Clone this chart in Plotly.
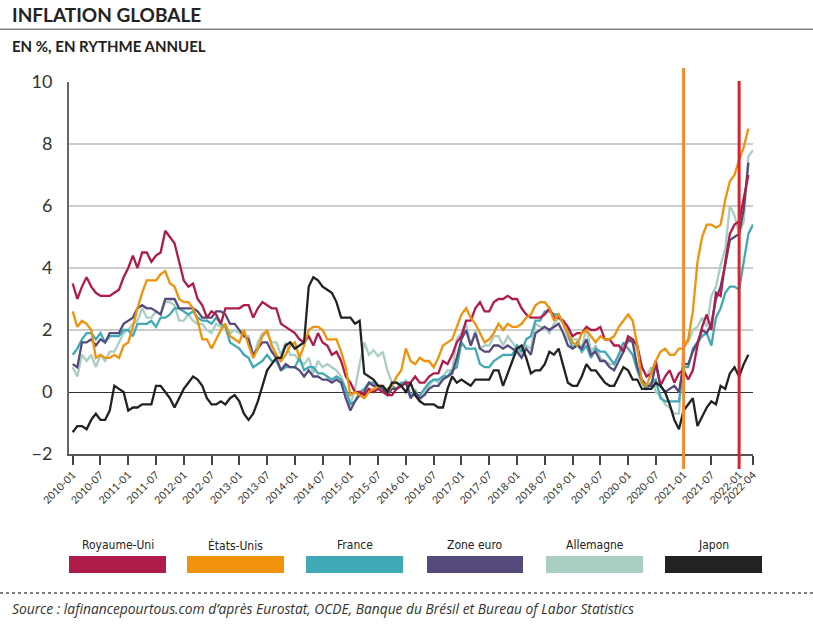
import plotly.graph_objects as go

# ---------------- DATA ----------------
tick_labels = ["2010-01", "2010-07", "2011-01", "2011-07", "2012-01", "2012-07", "2013-01",
               "2013-07", "2014-01", "2014-07", "2015-01", "2015-07", "2016-01", "2016-07",
               "2017-01", "2017-07", "2018-01", "2018-07", "2019-01", "2019-07", "2020-01",
               "2020-07", "2021-01", "2021-07", "2022-01", "2022-04"]
tick_months = [0, 6, 12, 18, 24, 30, 36, 42, 48, 54, 60, 66, 72, 78, 84, 90, 96, 102,
               108, 114, 120, 126, 132, 138, 144, 147]

royaume_uni = [3.5, 3.0, 3.4, 3.7, 3.4, 3.2, 3.1, 3.1, 3.1, 3.2, 3.3, 3.7,
               4.0, 4.4, 4.0, 4.5, 4.5, 4.2, 4.4, 4.5, 5.2, 5.0, 4.8, 4.2,
               3.6, 3.4, 3.5, 3.0, 2.8, 2.4, 2.6, 2.5, 2.2, 2.7, 2.7, 2.7,
               2.7, 2.8, 2.8, 2.4, 2.7, 2.9, 2.8, 2.7, 2.7, 2.2, 2.1, 2.0,
               1.9, 1.7, 1.6, 1.8, 1.5, 1.9, 1.6, 1.5, 1.2, 1.3, 1.0, 0.5,
               0.3, 0.0, 0.0, -0.1, 0.1, 0.0, 0.1, 0.0, -0.1, -0.1, 0.1, 0.2,
               0.3, 0.3, 0.5, 0.3, 0.3, 0.5, 0.6, 0.6, 1.0, 0.9, 1.2, 1.6,
               1.8, 2.3, 2.3, 2.7, 2.9, 2.6, 2.6, 2.9, 3.0, 3.0, 3.1, 3.0,
               3.0, 2.7, 2.5, 2.4, 2.4, 2.4, 2.5, 2.7, 2.4, 2.4, 2.3, 2.1,
               1.8, 1.9, 1.9, 2.1, 2.0, 2.0, 2.1, 1.7, 1.7, 1.5, 1.5, 1.3,
               1.8, 1.7, 1.5, 0.8, 0.5, 0.6, 1.0, 0.2, 0.5, 0.7, 0.3, 0.6,
               0.7, 0.4, 0.7, 1.5, 2.1, 2.5, 2.0, 3.2, 3.1, 4.2, 5.1, 5.4,
               5.5, 6.2, 7.0]

etats_unis = [2.6, 2.1, 2.3, 2.2, 2.0, 1.1, 1.2, 1.1, 1.1, 1.2, 1.1, 1.5,
              1.6, 2.1, 2.7, 3.2, 3.6, 3.6, 3.6, 3.8, 3.9, 3.5, 3.4, 3.0,
              2.9, 2.9, 2.7, 2.3, 1.7, 1.7, 1.4, 1.7, 2.0, 2.2, 1.8, 1.7,
              1.6, 2.0, 1.5, 1.1, 1.4, 1.8, 2.0, 1.5, 1.2, 1.0, 1.2, 1.5,
              1.6, 1.1, 1.5, 2.0, 2.1, 2.1, 2.0, 1.7, 1.7, 1.7, 1.3, 0.8,
              -0.1, 0.0, -0.1, -0.2, 0.0, 0.1, 0.2, 0.2, 0.0, 0.2, 0.5, 0.7,
              1.4, 1.0, 0.9, 1.1, 1.0, 1.0, 0.8, 1.1, 1.5, 1.6, 1.7, 2.1,
              2.5, 2.7, 2.4, 2.2, 1.9, 1.6, 1.7, 1.9, 2.2, 2.0, 2.2, 2.1,
              2.1, 2.2, 2.4, 2.5, 2.8, 2.9, 2.9, 2.7, 2.3, 2.5, 2.2, 1.9,
              1.6, 1.5, 1.9, 2.0, 1.8, 1.6, 1.8, 1.7, 1.7, 1.8, 2.1, 2.3,
              2.5, 2.3, 1.5, 0.3, 0.2, 0.6, 1.0, 1.3, 1.4, 1.2, 1.2, 1.4,
              1.4, 1.7, 2.6, 4.2, 5.0, 5.4, 5.4, 5.3, 5.4, 6.2, 6.8, 7.0,
              7.5, 7.9, 8.5]

france = [1.2, 1.4, 1.7, 1.9, 1.9, 1.7, 1.9, 1.6, 1.8, 1.8, 1.8, 2.0,
          2.0, 1.8, 2.2, 2.2, 2.2, 2.3, 2.1, 2.4, 2.4, 2.5, 2.7, 2.7,
          2.6, 2.5, 2.6, 2.4, 2.3, 2.3, 2.2, 2.4, 2.2, 2.1, 1.6, 1.5,
          1.4, 1.2, 1.1, 0.8, 0.9, 1.0, 1.2, 1.0, 1.0, 0.7, 0.8, 0.8,
          0.8, 1.1, 0.7, 0.8, 0.8, 0.6, 0.6, 0.5, 0.4, 0.5, 0.4, 0.1,
          -0.4, -0.3, 0.0, 0.1, 0.3, 0.3, 0.2, 0.1, 0.1, 0.2, 0.1, 0.3,
          0.3, -0.1, -0.1, -0.1, 0.1, 0.3, 0.4, 0.4, 0.5, 0.5, 0.7, 0.8,
          1.6, 1.4, 1.4, 1.4, 0.9, 0.8, 0.8, 1.0, 1.1, 1.2, 1.2, 1.2,
          1.5, 1.3, 1.7, 1.8, 2.3, 2.3, 2.6, 2.6, 2.5, 2.5, 2.2, 1.9,
          1.4, 1.6, 1.3, 1.5, 1.1, 1.4, 1.3, 1.3, 1.1, 0.9, 1.2, 1.6,
          1.4, 1.2, 0.7, 0.3, 0.1, 0.3, 0.4, -0.2, -0.3, -0.3, -0.3, -0.3,
          0.8, 0.8, 1.4, 1.6, 1.8, 1.9, 1.5, 2.4, 2.7, 3.2, 3.4, 3.4,
          3.3, 4.2, 5.1, 5.4]

zone_euro = [0.9, 0.8, 1.6, 1.6, 1.7, 1.5, 1.7, 1.6, 1.9, 1.9, 1.9, 2.2,
             2.3, 2.4, 2.7, 2.8, 2.7, 2.7, 2.6, 2.5, 3.0, 3.0, 3.0, 2.7,
             2.7, 2.7, 2.7, 2.6, 2.4, 2.4, 2.4, 2.6, 2.6, 2.5, 2.2, 2.2,
             2.0, 1.8, 1.7, 1.2, 1.4, 1.6, 1.6, 1.3, 1.1, 0.7, 0.9, 0.8,
             0.8, 0.7, 0.5, 0.7, 0.5, 0.5, 0.4, 0.4, 0.3, 0.4, 0.3, -0.2,
             -0.6, -0.3, -0.1, 0.0, 0.3, 0.2, 0.2, 0.1, -0.1, 0.1, 0.1, 0.2,
             0.3, -0.2, 0.0, -0.2, -0.1, 0.1, 0.2, 0.2, 0.4, 0.5, 0.6, 1.1,
             1.7, 2.0, 1.5, 1.9, 1.4, 1.3, 1.3, 1.5, 1.5, 1.4, 1.5, 1.4,
             1.3, 1.1, 1.4, 1.2, 1.9, 2.0, 2.1, 2.0, 2.1, 2.2, 1.9, 1.5,
             1.4, 1.5, 1.4, 1.7, 1.2, 1.3, 1.0, 1.0, 0.8, 0.7, 1.0, 1.3,
             1.7, 1.6, 0.8, 0.4, 0.2, 0.2, 0.9, 0.2, 0.0, 0.1, 0.2, 0.0,
             0.9, 0.9, 1.3, 1.6, 2.0, 1.9, 2.2, 3.0, 3.4, 4.1, 4.9, 5.0,
             5.1, 5.9, 7.4]

allemagne = [0.8, 0.5, 1.2, 1.0, 1.2, 0.8, 1.2, 1.0, 1.3, 1.3, 1.6, 1.9,
             2.0, 2.2, 2.3, 2.7, 2.4, 2.4, 2.6, 2.5, 2.9, 2.9, 2.8, 2.3,
             2.3, 2.5, 2.3, 2.2, 2.2, 2.0, 1.9, 2.2, 2.1, 2.1, 1.9, 2.0,
             1.9, 1.8, 1.8, 1.1, 1.6, 1.9, 1.9, 1.6, 1.6, 1.2, 1.6, 1.2,
             1.2, 1.0, 0.9, 1.1, 0.6, 1.0, 0.8, 0.9, 0.8, 0.7, 0.5, 0.1,
             -0.4, 0.1, 0.9, 1.6, 1.2, 1.35, 1.15, 1.3, 0.7, 0.3, 0.3, 0.2,
             0.4, -0.2, 0.1, -0.3, 0.0, 0.2, 0.4, 0.3, 0.5, 0.7, 0.7, 1.7,
             1.9, 2.2, 1.5, 2.0, 1.4, 1.5, 1.5, 1.8, 1.8, 1.5, 1.8, 1.6,
             1.4, 1.2, 1.5, 1.4, 2.2, 2.1, 2.1, 1.9, 2.2, 2.4, 2.2, 1.7,
             1.7, 1.7, 1.4, 2.1, 1.3, 1.5, 1.1, 1.0, 0.9, 0.9, 1.2, 1.5,
             1.6, 1.7, 1.3, 0.8, 0.5, 0.8, 0.0, -0.1, -0.4, -0.5, -0.7, -0.7,
             1.6, 1.6, 2.0, 2.1, 2.4, 2.1, 3.1, 3.4, 4.1, 4.6, 6.0, 5.7,
             5.1, 5.5, 7.6, 7.8]

japon = [-1.3, -1.1, -1.1, -1.2, -0.9, -0.7, -0.9, -0.9, -0.6, 0.2, 0.1, 0.0,
         -0.6, -0.5, -0.5, -0.4, -0.4, -0.4, 0.2, 0.2, 0.0, -0.2, -0.5, -0.2,
         0.1, 0.3, 0.5, 0.4, 0.2, -0.2, -0.4, -0.4, -0.3, -0.4, -0.2, -0.1,
         -0.3, -0.7, -0.9, -0.7, -0.3, 0.2, 0.7, 0.9, 1.1, 1.1, 1.5, 1.6,
         1.4, 1.5, 1.6, 3.4, 3.7, 3.6, 3.4, 3.3, 3.2, 2.9, 2.4, 2.4,
         2.4, 2.2, 2.3, 0.6, 0.5, 0.4, 0.2, 0.2, 0.0, 0.3, 0.3, 0.2,
         0.0, 0.3, -0.1, -0.3, -0.4, -0.4, -0.4, -0.5, -0.5, 0.1, 0.5, 0.3,
         0.4, 0.3, 0.2, 0.4, 0.4, 0.4, 0.4, 0.7, 0.7, 0.2, 0.6, 1.0,
         1.4, 1.5, 1.1, 0.6, 0.7, 0.7, 0.9, 1.3, 1.2, 1.4, 0.8, 0.3,
         0.2, 0.2, 0.5, 0.9, 0.7, 0.7, 0.5, 0.3, 0.2, 0.2, 0.5, 0.8,
         0.7, 0.4, 0.4, 0.1, 0.1, 0.1, 0.3, 0.2, 0.0, -0.4, -0.9, -1.2,
         -0.6, -0.4, -0.2, -1.1, -0.8, -0.5, -0.3, -0.4, 0.2, 0.1, 0.6, 0.8,
         0.5, 0.9, 1.2]

series_names = ["Royaume-Uni", "États-Unis", "France", "Zone euro", "Allemagne", "Japon"]
series_values = [royaume_uni, etats_unis, france, zone_euro, allemagne, japon]
series_colors = ["#B01C4A", "#F0920A", "#3FA9B5", "#574A7C", "#A9CEC4", "#222222"]

marker_months = [132, 144]          # 2021-01 and 2022-01
marker_colors = ["#F08A34", "#D8242C"]

# ---------------- LAYOUT HELPERS ----------------
W, H = 813, 637
L, R, T, B = 69, 60, 82, 183
PW, PH = W - L - R, H - T - B


def px(X):
    """window x pixel -> paper coordinate"""
    return (X - L) / PW


def py(Y):
    """window y pixel -> paper coordinate"""
    return (H - B - Y) / PH


FONT = "Lato, 'Open Sans', sans-serif"
NARROW = "'Liberation Sans Narrow', 'DejaVu Sans Condensed', sans-serif"

fig = go.Figure()

draw_order = [4, 2, 3, 0, 1, 5]
for i in draw_order:
    vals = series_values[i]
    fig.add_trace(go.Scatter(
        x=list(range(len(vals))), y=vals, mode="lines", name=series_names[i],
        line=dict(color=series_colors[i], width=2.3), showlegend=False,
        hoverinfo="skip"))

shapes = []
shapes.append(dict(type="line", xref="x", yref="paper", x0=marker_months[0], x1=marker_months[0],
                   y0=py(469), y1=py(68), line=dict(color=marker_colors[0], width=3), layer="above"))
shapes.append(dict(type="line", xref="x", yref="paper", x0=marker_months[1], x1=marker_months[1],
                   y0=py(469), y1=py(81), line=dict(color=marker_colors[1], width=3), layer="above"))
shapes.append(dict(type="line", xref="paper", yref="paper", x0=px(0), x1=px(813),
                   y0=py(29.3), y1=py(29.3), line=dict(color="#808080", width=1.5)))
shapes.append(dict(type="line", xref="paper", yref="paper", x0=px(0), x1=px(813),
                   y0=py(593), y1=py(593), line=dict(color="#555555", width=1.5, dash="dot")))

annotations = []
legend_x = [(69, 166), (187, 284), (306, 403), (427, 523), (546, 643), (665, 762)]
for (x0, x1), name, col in zip(legend_x, series_names, series_colors):
    shapes.append(dict(type="rect", xref="paper", yref="paper", x0=px(x0), x1=px(x1),
                       y0=py(573), y1=py(556), fillcolor=col, line=dict(width=0)))
    annotations.append(dict(text=name, xref="paper", yref="paper", x=px((x0 + x1) / 2), y=py(545),
                            xanchor="center", yanchor="middle", showarrow=False,
                            font=dict(family=NARROW, size=12, color="#222222")))

annotations.append(dict(text="<b>INFLATION GLOBALE</b>", xref="paper", yref="paper", x=px(10), y=py(14.5),
                        xanchor="left", yanchor="middle", showarrow=False,
                        font=dict(family=FONT, size=19, color="#222222")))
annotations.append(dict(text="<b>EN %, EN RYTHME ANNUEL</b>", xref="paper", yref="paper", x=px(10), y=py(46),
                        xanchor="left", yanchor="middle", showarrow=False,
                        font=dict(family=FONT, size=15, color="#222222")))
annotations.append(dict(text="<i>Source : lafinancepourtous.com d’après Eurostat, OCDE, Banque du Brésil et Bureau of Labor Statistics</i>",
                        xref="paper", yref="paper", x=px(10), y=py(608),
                        xanchor="left", yanchor="middle", showarrow=False,
                        font=dict(family="'Open Sans', sans-serif", size=13.8, color="#333333")))

fig.update_layout(
    width=W, height=H,
    margin=dict(l=L, r=R, t=T, b=B, pad=0),
    paper_bgcolor="white", plot_bgcolor="white",
    shapes=shapes, annotations=annotations,
    font=dict(family=FONT, color="#333333"),
    hovermode=False,
    xaxis=dict(range=[-0.8, 147], tickmode="array", tickvals=tick_months, ticktext=tick_labels,
               tickangle=-45, tickfont=dict(size=10.5, color="#333333", family=FONT),
               showgrid=False, zeroline=False, showline=True, linecolor="#555555", linewidth=1.5,
               ticks="outside", ticklen=9, tickwidth=1.5, tickcolor="#444444"),
    yaxis=dict(range=[-2, 10], tickmode="array", tickvals=[-2, 0, 2, 4, 6, 8, 10],
               tickfont=dict(size=18, color="#333333", family=FONT),
               showgrid=True, gridcolor="#cccccc", gridwidth=1.5,
               zeroline=True, zerolinecolor="#333333", zerolinewidth=1.3,
               showline=True, linecolor="#666666", linewidth=2, ticks="", ticklabelstandoff=11),
)

# the page body has a default 8px margin; remove it so the figure sits at the window corner
fig.write_html("out.html", config={"displayModeBar": False},
               post_script="document.body.style.margin='0px';")
